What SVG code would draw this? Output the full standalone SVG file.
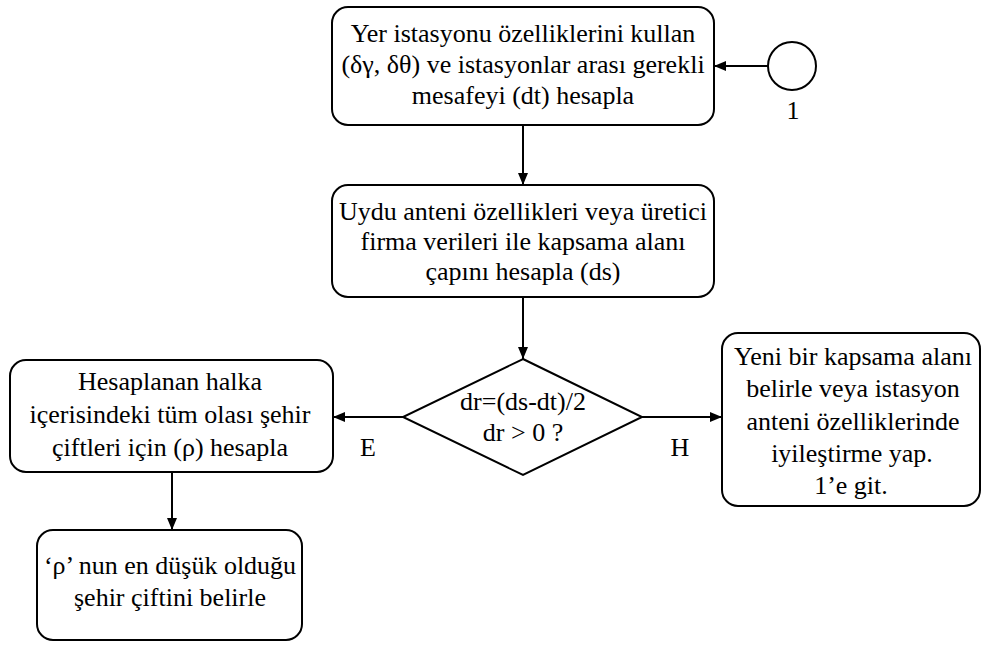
<svg xmlns="http://www.w3.org/2000/svg" width="985" height="646" viewBox="0 0 985 646">
  <style>
    .box { fill: #fff; stroke: #000; stroke-width: 2; }
    .edge { fill: none; stroke: #000; stroke-width: 2; marker-end: url(#arrow); }
  </style>
  <defs>
    <marker id="arrow" viewBox="0 0 12 10" refX="12" refY="5" markerWidth="12" markerHeight="10" markerUnits="userSpaceOnUse" orient="auto">
      <path d="M0,0 L12,5 L0,10 Z" fill="#000"/>
    </marker>
  </defs>
  <rect width="985" height="646" fill="#fff"/>

  <g font-family="Liberation Serif, Times New Roman, serif" font-size="26" text-anchor="middle" fill="#000">
    <g id="connectors">
      <path class="edge" d="M768,66 H714"/>
      <path class="edge" d="M523,125 V185"/>
      <path class="edge" d="M523,297 V359"/>
      <path class="edge" d="M403,417 H333"/>
      <path class="edge" d="M642,417 H722"/>
      <path class="edge" d="M172,472 V530"/>
      <text x="368" y="456">E</text>
      <text x="680" y="456">H</text>
    </g>

    <g id="station-props">
      <rect class="box" x="332" y="7" width="382" height="118" rx="16"/>
      <text x="523" y="42">Yer istasyonu özelliklerini kullan</text>
      <text x="523" y="73">(δγ, δθ) ve istasyonlar arası gerekli</text>
      <text x="523" y="104">mesafeyi (dt) hesapla</text>
    </g>

    <g id="connector-1">
      <circle cx="792" cy="66" r="24" fill="#fff" stroke="#000" stroke-width="2"/>
      <text x="793" y="119">1</text>
    </g>

    <g id="coverage">
      <rect class="box" x="332" y="185" width="382" height="112" rx="16"/>
      <text x="523" y="220">Uydu anteni özellikleri veya üretici</text>
      <text x="523" y="250">firma verileri ile kapsama alanı</text>
      <text x="523" y="280">çapını hesapla (ds)</text>
    </g>

    <g id="decision">
      <polygon class="box" points="523,359 642,417 523,475 403,417"/>
      <text x="523" y="410">dr=(ds-dt)/2</text>
      <text x="523" y="441">dr &gt; 0 ?</text>
    </g>

    <g id="city-pairs">
      <rect class="box" x="10" y="360" width="323" height="112" rx="16"/>
      <text x="170" y="390">Hesaplanan halka</text>
      <text x="170" y="423">içerisindeki tüm olası şehir</text>
      <text x="170" y="456">çiftleri için (ρ) hesapla</text>
    </g>

    <g id="improve">
      <rect class="box" x="722" y="333" width="258" height="173" rx="16"/>
      <text x="853" y="365">Yeni bir kapsama alanı</text>
      <text x="853" y="397">belirle veya istasyon</text>
      <text x="853" y="430">anteni özelliklerinde</text>
      <text x="852" y="462">iyileştirme yap.</text>
      <text x="851" y="494">1’e git.</text>
    </g>

    <g id="min-pair">
      <rect class="box" x="37" y="530" width="265" height="110" rx="16"/>
      <text x="170" y="574">‘ρ’ nun en düşük olduğu</text>
      <text x="170" y="606">şehir çiftini belirle</text>
    </g>
  </g>
</svg>
